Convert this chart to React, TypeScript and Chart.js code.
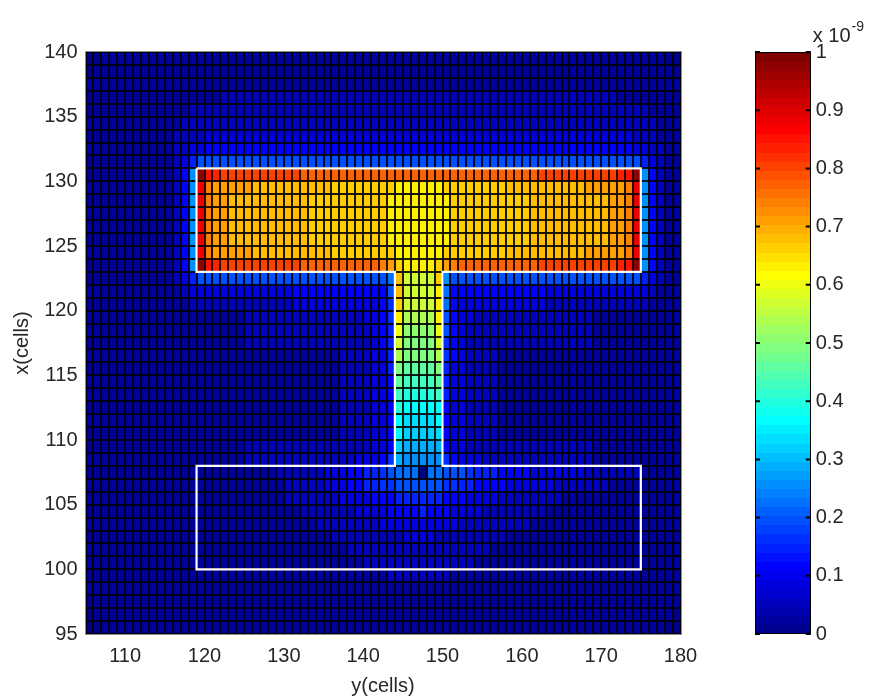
import React, { useEffect, useRef } from "react";
import { Chart, registerables } from "chart.js";

Chart.register(...registerables);

const FONT = "'Liberation Sans', Arial, Helvetica, sans-serif";
const TEXT = "#262626";
const TICK_SIZE = 20;

// axes
const xMin = 105;
const xMax = 180;
const yMin = 95;
const yMax = 140;
const xTicks = [110, 120, 130, 140, 150, 160, 170, 180];
const yTicks = [95, 100, 105, 110, 115, 120, 125, 130, 135, 140];
const xTitle = "y(cells)";
const yTitle = "x(cells)";

// colorbar
const cbTicks = [0, 0.1, 0.2, 0.3, 0.4, 0.5, 0.6, 0.7, 0.8, 0.9, 1];
const cbTickLabels = ["0", "0.1", "0.2", "0.3", "0.4", "0.5", "0.6", "0.7", "0.8", "0.9", "1"];
const cbMultiplier = "x 10";
const cbExponent = "-9";

// cell values: one char per cell, level index in LEVELS -> value = index/35 (x 1e-9)
const LEVELS = "0123456789abcdefghijklmnopqrstuvwxyz";
// first column starts at y = 105; each row string covers columns 105..179
const colStart = 105;
// bottom edge (x value) of each row, top row first
const rowBottoms = [
  139, 138, 137, 136, 135, 134, 133, 132, 131, 130, 129, 128, 127, 126, 125,
  124, 123, 122, 121, 120, 119, 118, 117, 116, 115, 114, 113, 112, 111, 110,
  109, 108, 107, 106, 105, 104, 103, 102, 101, 100, 99, 98, 97, 96, 95,
];
const rows = [
  "00111 11111 1111 | 11111 11111 11111 11111 11111 | 111111 | 11111 11111 11111 11111 11111 | 11100",
  "01111 11111 1111 | 11111 11111 11111 11111 11111 | 111111 | 11111 11111 11111 11111 11111 | 11110",
  "11111 11111 1111 | 11111 11111 11111 11111 11111 | 111111 | 11111 11111 11111 11111 11111 | 11111",
  "11111 11111 1111 | 11122 22222 22222 22222 22222 | 222222 | 22222 22222 22222 22222 22111 | 11111",
  "11111 11111 1112 | 22222 22222 22222 22222 22222 | 222222 | 22222 22222 22222 22222 22222 | 21111",
  "11111 11111 1122 | 22222 22222 22222 22222 22222 | 222222 | 22222 22222 22222 22222 22222 | 22111",
  "11111 11111 1222 | 23333 33333 33333 33333 33333 | 333333 | 33333 33333 33333 33333 33332 | 22111",
  "11111 11111 1223 | 34444 44444 44444 44444 44444 | 444444 | 44444 44444 44444 44444 44443 | 32211",
  "11111 11111 1235 | 77777 77777 77777 77777 77777 | 777777 | 77777 77777 77777 77777 77777 | 53211",
  "11111 11111 1249 | yutss sssss sssrr rrrrr rrrrr | rrrrrr | rrrrr rrrrr rrsss sssss sstuy | 94211",
  "11111 11111 1249 | vqppp ppooo ooooo oonnn nnnnn | mmmmmm | nnnnn nnnoo ooooo ooopp pppqv | 94211",
  "11111 11111 1249 | vqppo ooooo oooon nnnnn nnnnm | mmmmmm | mnnnn nnnnn noooo ooooo oppqv | 94211",
  "11111 11111 1249 | vqppo ooooo oooon nnnnn nnnnm | mmmmmm | mnnnn nnnnn noooo ooooo oppqv | 94211",
  "11111 11111 1249 | vqppo ooooo oooon nnnnn nnnnm | mmmmmm | mnnnn nnnnn noooo ooooo oppqv | 94211",
  "11111 11111 1249 | vqppo ooooo oooon nnnnn nnnnm | mmmmmm | mnnnn nnnnn noooo ooooo oppqv | 94211",
  "11111 11111 1249 | vqppp ppooo ooooo oonnn nnnnn | mmmmmm | nnnnn nnnoo ooooo ooopp pppqv | 94211",
  "11111 11111 1249 | yutss sssss sssrr rrrrr rrrqp | nmmmmn | pqrrr rrrrr rrsss sssss sstuy | 94211",
  "11111 11111 1235 | 77777 77777 77777 77777 77778 | okkkkn | 97777 77777 77777 77777 77777 | 53211",
  "11111 11111 1123 | 33333 33333 33444 44444 44447 | okkkkm | 84444 44444 44433 33333 33333 | 32111",
  "11111 11111 1112 | 22222 22222 22333 33333 33346 | nkkkkm | 84333 33333 33322 22222 22222 | 21111",
  "11111 11111 1111 | 11111 12222 22222 22222 23346 | mjjjjm | 74332 22222 22222 22221 11111 | 11111",
  "11111 11111 1111 | 11111 12222 22222 22222 22345 | liiiil | 74322 22222 22222 22221 11111 | 11111",
  "11111 11111 1111 | 11111 12222 22222 22222 22345 | khhhhk | 64322 22222 22222 22221 11111 | 11111",
  "11111 11111 1111 | 11111 11111 11111 11122 22335 | jhhhhj | 64322 22111 11111 11111 11111 | 11111",
  "11111 11111 1111 | 11111 11111 11111 11122 22335 | hggggh | 53322 22111 11111 11111 11111 | 11111",
  "11111 11111 1111 | 11111 11111 11111 11122 22334 | gffffg | 53322 22111 11111 11111 11111 | 11111",
  "11111 11111 1111 | 11111 11111 11111 11122 22334 | feeeef | 53322 22111 11111 11111 11111 | 11111",
  "11111 11111 1111 | 11111 11111 11111 11122 22334 | eddddd | 43322 22111 11111 11111 11111 | 11111",
  "11111 11111 1111 | 11111 11111 11111 11122 22334 | dccccd | 43322 22111 11111 11111 11111 | 11111",
  "11111 11111 1111 | 11111 11111 11111 11122 22334 | dbbbbc | 43322 22111 11111 11111 11111 | 11111",
  "11111 11111 1111 | 11111 12222 22222 22222 22334 | baaaaa | 43322 22222 22222 22221 11111 | 11111",
  "11111 11111 1111 | 11111 12222 22222 22222 33346 | a99999 | 64333 22222 22222 22221 11111 | 11111",
  "11111 11111 1111 | 11111 11111 22222 23334 45567 | 888088 | 77765 55444 43333 33322 22222 | 11111",
  "11111 11111 1111 | 11111 11111 12222 23334 45566 | 777777 | 66554 44433 33332 22222 21111 | 11111",
  "11111 11111 1111 | 11111 11111 12222 22233 33444 | 555555 | 44433 33222 22222 11111 11111 | 11111",
  "11111 11111 1111 | 11111 11111 11122 22222 33334 | 444544 | 43333 22222 22211 11111 11111 | 11111",
  "11111 11111 1111 | 11111 11111 11111 22222 22233 | 333333 | 33222 22222 21111 11111 11111 | 11111",
  "11111 11111 1111 | 11111 11111 11111 11222 22222 | 233332 | 22222 22211 11111 11111 11111 | 11111",
  "11111 11111 1111 | 11111 11111 11111 11112 22222 | 222222 | 22222 21111 11111 11111 11111 | 11111",
  "11111 11111 1111 | 11111 11111 11111 11111 12222 | 222222 | 22221 11111 11111 11111 11111 | 11111",
  "11111 11111 1111 | 11111 11111 11111 11111 11112 | 222222 | 21111 11111 11111 11111 11111 | 11111",
  "11111 11111 1111 | 11111 11111 11111 11111 11111 | 111111 | 11111 11111 11111 11111 11111 | 11111",
  "11111 11111 1111 | 11111 11111 11111 11111 11111 | 111111 | 11111 11111 11111 11111 11111 | 11111",
  "01111 11111 1111 | 11111 11111 11111 11111 11111 | 111111 | 11111 11111 11111 11111 11111 | 11110",
  "00111 11111 1111 | 11111 11111 11111 11111 11111 | 111111 | 11111 11111 11111 11111 11111 | 11100",
];

// white outline of the I-section (y, x)
const outlineY = [119, 175, 175, 150, 150, 175, 175, 119, 119, 144, 144, 119, 119];
const outlineX = [131, 131, 123, 123, 108, 108, 100, 100, 108, 108, 123, 123, 131];

// MATLAB jet(64)
function jet64(i: number): [number, number, number] {
  let r = 0, g = 0, b = 0;
  if (i >= 25 && i <= 40) r = (i - 24) / 16;
  else if (i >= 41 && i <= 55) r = 1;
  else if (i >= 56) r = (72 - i) / 16;
  if (i >= 9 && i <= 24) g = (i - 8) / 16;
  else if (i >= 25 && i <= 39) g = 1;
  else if (i >= 40 && i <= 55) g = (56 - i) / 16;
  if (i <= 8) b = (i + 8) / 16;
  else if (i <= 23) b = 1;
  else if (i <= 39) b = (40 - i) / 16;
  return [r, g, b];
}
function rgb(c: [number, number, number]) {
  return `rgb(${Math.round(c[0] * 255)},${Math.round(c[1] * 255)},${Math.round(c[2] * 255)})`;
}
function jetColor(v: number) {
  const idx = Math.min(64, Math.max(1, Math.floor(v * 64) + 1));
  return rgb(jet64(idx));
}

const heatmapPlugin = {
  id: "heatmap",
  beforeDatasetsDraw(chart: any) {
    const { ctx, chartArea, scales } = chart;
    const xs = scales.x;
    const ys = scales.y;
    const px = (v: number) => Math.round(xs.getPixelForValue(v));
    const py = (v: number) => Math.round(ys.getPixelForValue(v));
    ctx.save();
    rows.forEach((row, r) => {
      const cells = row.replace(/[\s|]/g, "");
      const yb = rowBottoms[r];
      const py0 = py(yb + 1);
      const py1 = py(yb);
      for (let c = 0; c < cells.length; c++) {
        const xv = colStart + c;
        const v = LEVELS.indexOf(cells[c]) / (LEVELS.length - 1);
        const px0 = px(xv);
        const px1 = px(xv + 1);
        ctx.fillStyle = jetColor(v);
        ctx.fillRect(px0, py0, px1 - px0, py1 - py0);
      }
    });
    // cell edges (black, ~2px)
    ctx.fillStyle = "rgba(0,0,0,0.88)";
    const top = py(yMax);
    const bottom = py(yMin);
    const left = px(xMin);
    const right = px(xMax);
    for (let v = xMin; v <= xMax; v++) {
      const p = px(v);
      ctx.fillRect(p - 1, top, 2, bottom - top);
    }
    for (let v = yMin; v <= yMax; v++) {
      const p = py(v);
      ctx.fillRect(left, p - 1, right - left, 2);
    }
    ctx.strokeStyle = "#8c8c8c";
    ctx.lineWidth = 1;
    ctx.strokeRect(left - 0.5, top - 0.5, right - left + 1, bottom - top + 1);
    ctx.restore();
  },
  afterDraw(chart: any) {
    const { ctx, chartArea } = chart;
    ctx.save();
    ctx.fillStyle = TEXT;
    ctx.font = `${TICK_SIZE}px ${FONT}`;
    ctx.textAlign = "center";
    ctx.textBaseline = "middle";
    ctx.fillText(xTitle, (chartArea.left + chartArea.right) / 2, 686);
    ctx.translate(22, (chartArea.top + chartArea.bottom) / 2);
    ctx.rotate(-Math.PI / 2);
    ctx.fillText(yTitle, 0, 0);
    ctx.restore();
  },
};

const colorbarPlugin = {
  id: "colorbar",
  beforeDraw(chart: any) {
    const { ctx, chartArea, scales } = chart;
    const ys = scales.y;
    ctx.save();
    for (let k = 0; k < 64; k++) {
      const p0 = ys.getPixelForValue((k + 1) / 64);
      const p1 = ys.getPixelForValue(k / 64);
      ctx.fillStyle = rgb(jet64(k + 1));
      ctx.fillRect(chartArea.left, Math.floor(p0), chartArea.right - chartArea.left, Math.ceil(p1) - Math.floor(p0));
    }
    ctx.restore();
  },
  afterDraw(chart: any) {
    const { ctx, chartArea, scales } = chart;
    const ys = scales.y;
    ctx.save();
    ctx.strokeStyle = "#000";
    ctx.lineWidth = 1;
    ctx.strokeRect(Math.round(chartArea.left) + 0.5, Math.round(chartArea.top) + 0.5,
      Math.round(chartArea.right - chartArea.left) - 1, Math.round(chartArea.bottom - chartArea.top) - 1);
    ctx.lineWidth = 2;
    ctx.beginPath();
    cbTicks.forEach((t) => {
      const p = ys.getPixelForValue(t);
      ctx.moveTo(chartArea.left, p);
      ctx.lineTo(chartArea.left + 5, p);
      ctx.moveTo(chartArea.right, p);
      ctx.lineTo(chartArea.right - 5, p);
    });
    ctx.stroke();
    ctx.fillStyle = TEXT;
    ctx.textAlign = "left";
    ctx.textBaseline = "alphabetic";
    ctx.font = `${TICK_SIZE}px ${FONT}`;
    const x0 = chartArea.right + 2;
    ctx.fillText(cbMultiplier, x0, 42);
    const w = ctx.measureText(cbMultiplier).width;
    ctx.font = `${Math.round(TICK_SIZE * 0.72)}px ${FONT}`;
    ctx.fillText(cbExponent, x0 + w + 1, 31);
    ctx.restore();
  },
};

export default function App() {
  const mainRef = useRef<HTMLCanvasElement>(null);
  const cbRef = useRef<HTMLCanvasElement>(null);

  useEffect(() => {
    document.body.style.margin = "0";
    const tickFont = { family: FONT, size: TICK_SIZE };
    const zeroPad = (s: any) => {
      s.paddingLeft = 0;
      s.paddingRight = 0;
      s.paddingTop = 0;
      s.paddingBottom = 0;
    };
    const main = new Chart(mainRef.current as HTMLCanvasElement, {
      type: "scatter",
      data: {
        datasets: [
          {
            data: outlineY.map((y, i) => ({ x: y, y: outlineX[i] })),
            showLine: true,
            borderColor: "#ffffff",
            borderWidth: 2.2,
            pointRadius: 0,
            fill: false,
            tension: 0,
          } as any,
        ],
      },
      options: {
        animation: false,
        responsive: false,
        maintainAspectRatio: false,
        layout: { padding: { top: 52, right: 19.5, left: 0, bottom: 0 } },
        plugins: { legend: { display: false }, tooltip: { enabled: false } },
        scales: {
          x: {
            type: "linear",
            min: xMin,
            max: xMax,
            afterBuildTicks: (s: any) => { s.ticks = xTicks.map((v) => ({ value: v })); },
            afterFit: (s: any) => { s.height = 66; zeroPad(s); },
            grid: { display: false, drawTicks: false },
            border: { display: false },
            ticks: { font: tickFont, color: TEXT, padding: 10, maxRotation: 0, autoSkip: false },
          },
          y: {
            type: "linear",
            min: yMin,
            max: yMax,
            afterBuildTicks: (s: any) => { s.ticks = yTicks.map((v) => ({ value: v })); },
            afterFit: (s: any) => { s.width = 85.5; zeroPad(s); },
            grid: { display: false, drawTicks: false },
            border: { display: false },
            ticks: { font: tickFont, color: TEXT, padding: 8, autoSkip: false },
          },
        },
      } as any,
      plugins: [heatmapPlugin],
    });

    const cb = new Chart(cbRef.current as HTMLCanvasElement, {
      type: "scatter",
      data: { datasets: [] },
      options: {
        animation: false,
        responsive: false,
        maintainAspectRatio: false,
        layout: { padding: { top: 52, right: 0, left: 55, bottom: 66 } },
        plugins: { legend: { display: false }, tooltip: { enabled: false } },
        scales: {
          x: { type: "linear", min: 0, max: 1, display: false },
          y: {
            type: "linear",
            position: "right",
            min: 0,
            max: 1,
            afterBuildTicks: (s: any) => { s.ticks = cbTicks.map((v) => ({ value: v })); },
            afterFit: (s: any) => { s.width = 60.3; zeroPad(s); },
            grid: { display: false, drawTicks: false },
            border: { display: false },
            ticks: {
              font: tickFont,
              color: TEXT,
              padding: 5,
              autoSkip: false,
              callback: (_v: any, i: number) => cbTickLabels[i],
            },
          },
        },
      } as any,
      plugins: [colorbarPlugin],
    });

    return () => {
      main.destroy();
      cb.destroy();
    };
  }, []);

  return (
    <div style={{ position: "relative", width: 871, height: 700, background: "#ffffff" }}>
      <canvas ref={mainRef} width={700} height={700} style={{ position: "absolute", left: 0, top: 0 }} />
      <canvas ref={cbRef} width={171} height={700} style={{ position: "absolute", left: 700, top: 0 }} />
    </div>
  );
}
